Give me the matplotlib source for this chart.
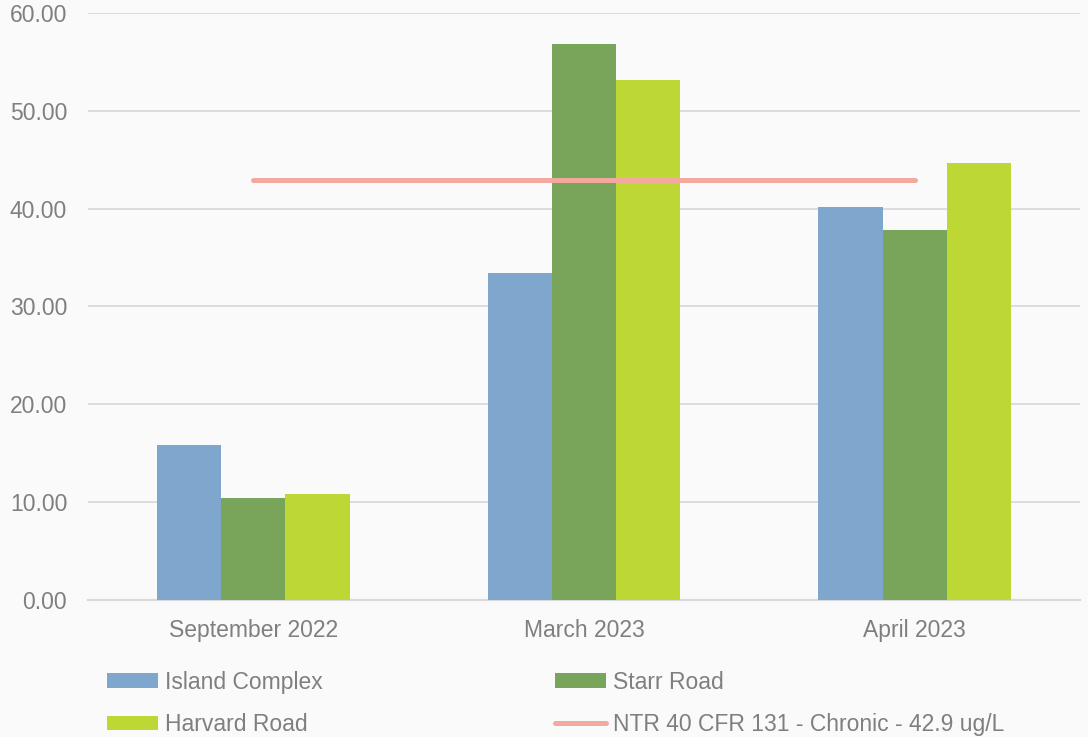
import numpy as np
import matplotlib.pyplot as plt

plt.rcParams['font.family'] = ['Liberation Sans', 'DejaVu Sans']

months = ["September 2022", "March 2023", "April 2023"]
island_complex = [15.8, 33.4, 40.2]
starr_road = [10.4, 56.8, 37.8]
harvard_road = [10.8, 53.1, 44.7]
chronic_limit = 42.9

blue = "#7FA7CE"
green = "#78A55A"
lime = "#BDD835"
salmon = "#F4A99F"
grey_txt = "#7F7F7F"

fig = plt.figure(figsize=(10.88, 7.37), dpi=100, facecolor="#FAFAFA")
ax = fig.add_axes([0.0809, 0.1859, 0.9117, 0.7965])
ax.set_facecolor("#FAFAFA")

x = np.arange(len(months))
w = 0.194
b1 = ax.bar(x - w, island_complex, w, color=blue, label="Island Complex", zorder=3)
b2 = ax.bar(x, starr_road, w, color=green, label="Starr Road", zorder=3)
b3 = ax.bar(x + w, harvard_road, w, color=lime, label="Harvard Road", zorder=3)
ln, = ax.plot([x[0], x[-1]], [chronic_limit, chronic_limit], color=salmon, lw=3.6,
              solid_capstyle="round", zorder=4,
              label="NTR 40 CFR 131 - Chronic - 42.9 ug/L")

ax.set_xlim(-0.5, 2.5)
ax.set_ylim(0, 60)
ax.set_yticks(np.arange(0, 61, 10))
ax.set_yticklabels([f"{v:.2f}" for v in range(0, 61, 10)])
ax.set_xticks(x)
ax.set_xticklabels(months)
ax.tick_params(axis="both", length=0, labelsize=16.5, labelcolor=grey_txt)
ax.tick_params(axis="y", pad=15)
ax.tick_params(axis="x", pad=14)
ax.grid(axis="y", color="#D9D9D9", lw=1.3, zorder=0)
for s in ["top", "right", "left"]:
    ax.spines[s].set_visible(False)
ax.spines["bottom"].set_color("#D9D9D9")
ax.spines["bottom"].set_linewidth(1.6)

# legend order gives Island | Starr on the first row, Harvard | NTR on the second
handles = [b1, b3, b2, ln]
labels = [h.get_label() for h in handles]
leg = fig.legend(handles, labels, loc="upper left", bbox_to_anchor=(0.0983, 0.090),
                 ncol=2, frameon=False, fontsize=16.5, handlelength=2.23,
                 handleheight=0.6, handletextpad=0.3, columnspacing=10.14,
                 labelspacing=0.85, borderpad=0, borderaxespad=0)
for t in leg.get_texts():
    t.set_color(grey_txt)

fig.savefig("out.png", dpi=100, facecolor=fig.get_facecolor())
